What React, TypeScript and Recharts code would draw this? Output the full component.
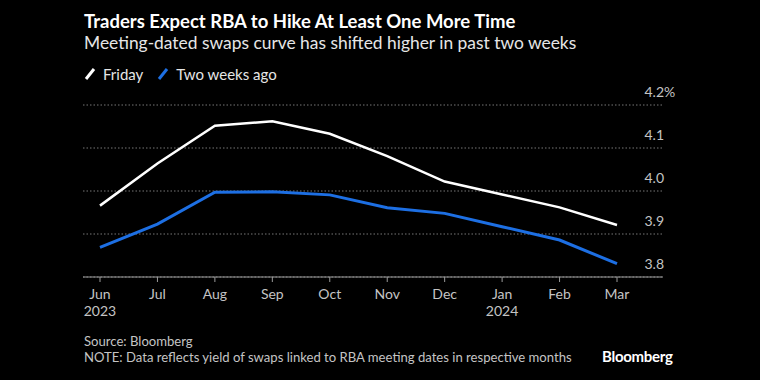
import React from "react";
import { CartesianGrid, Line, LineChart, XAxis, YAxis } from "recharts";

const months = ["Jun", "Jul", "Aug", "Sep", "Oct", "Nov", "Dec", "Jan", "Feb", "Mar"];
const years = ["2023", "", "", "", "", "", "", "2024", "", ""];
const friday = [3.966, 4.064, 4.152, 4.162, 4.133, 4.081, 4.022, 3.992, 3.962, 3.921];
const twoWeeksAgo = [3.869, 3.923, 3.997, 3.998, 3.991, 3.961, 3.948, 3.917, 3.886, 3.831];
const yTicks = [3.8, 3.9, 4.0, 4.1, 4.2];

const data = months.map((m, i) => ({ month: m, year: years[i], friday: friday[i], ago: twoWeeksAgo[i] }));

const FONT = "Lato, 'Noto Sans', sans-serif";
const BLUE = "#1d6fe3";
const LABEL = "#c4c4c4";

function MonthTick(props: any) {
  const { x, y, payload, index } = props;
  const yr = years[index];
  return (
    <g>
      <text x={x} y={y} dy={15} textAnchor="middle" fill={LABEL} fontSize={14} fontFamily={FONT}>
        {payload.value}
      </text>
      {yr && (
        <text x={x} y={y} dy={32} textAnchor="middle" fill={LABEL} fontSize={14} fontFamily={FONT}>
          {yr}
        </text>
      )}
    </g>
  );
}

function ValueTick(props: any) {
  const { x, y, payload } = props;
  const top = payload.value === yTicks[yTicks.length - 1];
  return (
    <g>
      <text x={x + 1} y={y} dy={-8} textAnchor="end" fill={LABEL} fontSize={14} fontFamily={FONT}>
        {payload.value.toFixed(1)}
      </text>
      {top && (
        <text x={x + 1} y={y} dy={-8} textAnchor="start" fill={LABEL} fontSize={14} fontFamily={FONT}>
          %
        </text>
      )}
    </g>
  );
}

function Slash({ color }: { color: string }) {
  return (
    <svg width={12} height={14} style={{ marginRight: 7, verticalAlign: "-1px" }}>
      <line x1={2} y1={12} x2={10} y2={2} stroke={color} strokeWidth={3} />
    </svg>
  );
}

export default function App() {
  return (
    <div style={{ position: "absolute", left: 0, top: 0, width: 760, height: 380, background: "#000", fontFamily: FONT, overflow: "hidden" }}>
      <div style={{ position: "absolute", left: 84, top: 10, lineHeight: "22px", color: "#fff", fontSize: 18.5, fontWeight: 700, whiteSpace: "nowrap" }}>
        Traders Expect RBA to Hike At Least One More Time
      </div>
      <div style={{ position: "absolute", left: 84, top: 32, lineHeight: "22px", color: "#e6e6e6", fontSize: 17.4, whiteSpace: "nowrap" }}>
        Meeting-dated swaps curve has shifted higher in past two weeks
      </div>
      <div style={{ position: "absolute", left: 84, top: 64, lineHeight: "20px", color: "#e6e6e6", fontSize: 15, whiteSpace: "nowrap", display: "flex", alignItems: "center" }}>
        <Slash color="#fff" />
        <span style={{ marginRight: 14 }}>Friday</span>
        <Slash color={BLUE} />
        <span>Two weeks ago</span>
      </div>
      <div style={{ position: "absolute", left: 0, top: 0 }}>
        <LineChart width={760} height={380} data={data} margin={{ top: 105, right: 96, bottom: 73, left: 83 }}>
          <CartesianGrid vertical={false} stroke="#777" strokeDasharray="1.5 2" />
          <XAxis
            dataKey="month"
            padding={{ left: 17, right: 46 }}
            tick={<MonthTick />}
            tickSize={5}
            tickMargin={2}
            stroke="#9a9a9a"
            interval={0}
            height={30}
          />
          <YAxis
            orientation="right"
            domain={[3.8, 4.2]}
            ticks={yTicks}
            width={1}
            axisLine={false}
            tickLine={false}
            tickSize={0}
            tickMargin={0}
            tick={<ValueTick />}
          />
          <Line dataKey="friday" stroke="#fff" strokeWidth={2.5} dot={false} isAnimationActive={false} />
          <Line dataKey="ago" stroke={BLUE} strokeWidth={3} dot={false} isAnimationActive={false} />
        </LineChart>
      </div>
      <div style={{ position: "absolute", left: 84, top: 333, color: LABEL, fontSize: 13.1, whiteSpace: "nowrap", lineHeight: "16px" }}>
        <div>Source: Bloomberg</div>
        <div>NOTE: Data reflects yield of swaps linked to RBA meeting dates in respective months</div>
      </div>
      <div style={{ position: "absolute", left: 602, top: 347, lineHeight: "18px", color: "#fff", fontSize: 15, fontWeight: 700, letterSpacing: -0.3 }}>
        Bloomberg
      </div>
    </div>
  );
}
